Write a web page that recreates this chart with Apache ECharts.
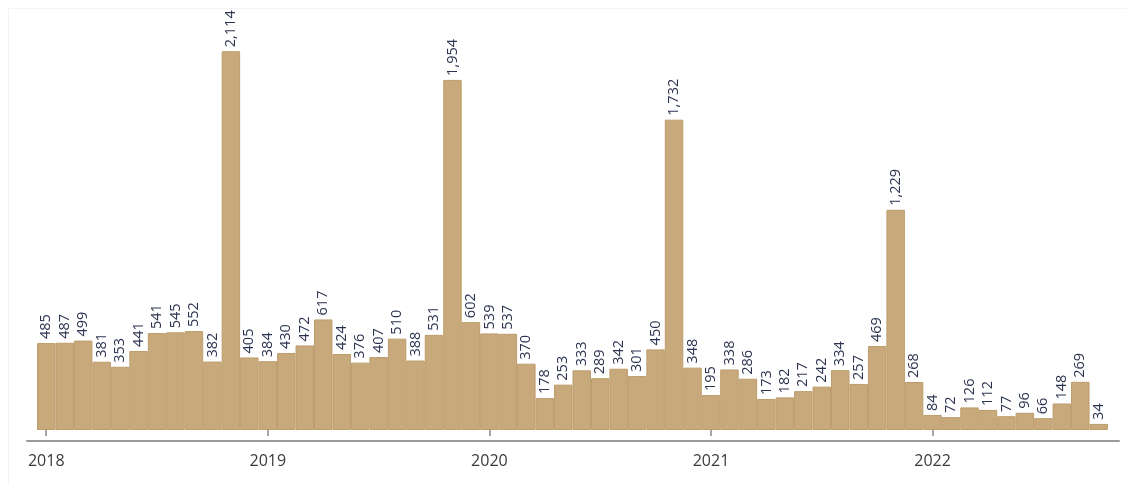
<!DOCTYPE html>
<html>
<head>
<meta charset="utf-8">
<script src="https://cdn.jsdelivr.net/npm/echarts@6/dist/echarts.min.js"></script>
<style>
  html, body { margin: 0; padding: 0; background: #fff; }
  #frame {
    position: absolute; left: 8px; top: 8px; width: 1119px; height: 477px;
    border-top: 1px solid #f4f4f4; border-left: 1px solid #f4f4f4;
  }
  #main { width: 1127px; height: 485px; position: absolute; left: 0; top: 0; }
</style>
</head>
<body>
<div id="frame"></div>
<div id="main"></div>
<script>
// monthly counts, Jan 2018 .. Oct 2022
const years = ["2018", "2019", "2020", "2021", "2022"]
const counts2018 = [485, 487, 499, 381, 353, 441, 541, 545, 552, 382, 2114, 405]
const counts2019 = [384, 430, 472, 617, 424, 376, 407, 510, 388, 531, 1954, 602]
const counts2020 = [539, 537, 370, 178, 253, 333, 289, 342, 301, 450, 1732, 348]
const counts2021 = [195, 338, 286, 173, 182, 217, 242, 334, 257, 469, 1229, 268]
const counts2022 = [84, 72, 126, 112, 77, 96, 66, 148, 269, 34]

const allCounts = [counts2018, counts2019, counts2020, counts2021, counts2022]
let months = []
let values = []
allCounts.forEach((arr, y) => {
  arr.forEach((v, m) => {
    months.push(years[y] + "-" + String(m + 1).padStart(2, "0"))
    values.push(v)
  })
})

const isYearStart = (i) => i % 12 === 0

var chart = echarts.init(document.getElementById("main"))
var option = {
  animation: false,
  grid: [
    { left: 37, right: 19, top: 0, bottom: 55 },
    { left: 27, right: 8, top: 441, height: 0 },
  ],
  xAxis: [
    {
      type: "category",
      gridIndex: 0,
      data: months,
      offset: 11,
      axisLine: { show: false },
      axisTick: {
        show: true,
        alignWithLabel: true,
        interval: isYearStart,
        length: 6,
        lineStyle: { color: "#8a8a8a", width: 1.5 },
      },
      axisLabel: {
        interval: isYearStart,
        formatter: (v) => v.slice(0, 4),
        margin: 12,
        color: "#3a3a3a",
        fontSize: 16,
        fontFamily: "Open Sans",
      },
    },
    {
      type: "value",
      gridIndex: 1,
      min: 0,
      max: 1,
      axisLine: { show: true, lineStyle: { color: "#9a9a9a", width: 2 } },
      axisTick: { show: false },
      axisLabel: { show: false },
      splitLine: { show: false },
    },
  ],
  yAxis: [
    { type: "value", gridIndex: 0, min: 0, max: 2400, show: false },
    { type: "value", gridIndex: 1, min: 0, max: 1, show: false },
  ],
  series: [
    {
      type: "bar",
      xAxisIndex: 0,
      yAxisIndex: 0,
      data: values,
      barCategoryGap: 0,
      itemStyle: { color: "#c8a97b", borderColor: "#bd9d6c", borderWidth: 1 },
      label: {
        show: true,
        position: "top",
        rotate: 90,
        align: "left",
        verticalAlign: "middle",
        distance: 3,
        formatter: (p) => p.value.toLocaleString("en-US"),
        color: "#2c3350",
        fontSize: 14.5,
        fontFamily: "Open Sans",
        backgroundColor: "#fff",
        padding: [0, 1, 0, 1],
      },
    },
  ],
}
chart.setOption(option)
</script>
</body>
</html>
